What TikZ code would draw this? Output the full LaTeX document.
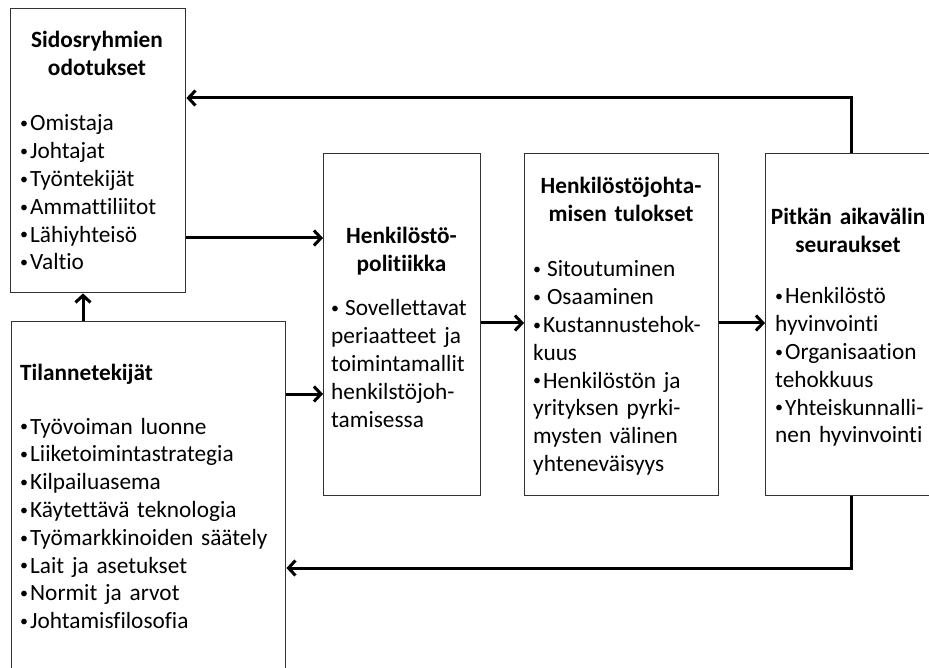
\documentclass[tikz,border=0pt]{standalone}
\usepackage{fontspec}
\setmainfont{Carlito}[Ligatures=NoCommon, WordSpace=0.75]
\usetikzlibrary{arrows.meta}
\newcommand{\fsz}{\fontsize{23.3}{27.8}\selectfont}
\newcommand{\bul}{{\fontsize{16}{16}\selectfont\raisebox{2.2pt}{•}}\hspace{2pt}}
\tikzset{
  box/.style={draw=black!80, line width=1.4pt, anchor=north west, inner sep=0pt},
  arr/.style={line width=3pt, -{Straight Barb[length=7pt,width=15pt]}},
  txt/.style={inner sep=0pt, font=\fsz, align=left, anchor=base west, text width=#1},
  txt/.default=170pt,
  head/.style={inner sep=0pt, font=\fsz\bfseries, align=center, anchor=base, text width=#1},
  head/.default=170pt,
}
\begin{document}
\begin{tikzpicture}[x=1pt,y=-1pt]
\useasboundingbox (0,0) rectangle (929,668);
\clip (0,0) rectangle (929,668);
\fill[white] (0,0) rectangle (929,668);
% boxes
\node[box, minimum width=175pt, minimum height=284pt] (b1) at (10,8) {};
\node[box, minimum width=274pt, minimum height=370pt] (b2) at (11,321) {};
\node[box, minimum width=157pt, minimum height=342pt] (b3) at (323,153) {};
\node[box, minimum width=194pt, minimum height=342pt] (b4) at (524,153) {};
\node[box, minimum width=172pt, minimum height=342pt] (b5) at (765,153) {};
% texts
\node[head] (h1) at (97,48) {Sidosryhmien\\odotukset};
\node[txt] (l1) at (20,131) {\bul Omistaja\\\bul Johtajat\\\bul Työntekijät\\\bul Ammattiliitot\\\bul Lähiyhteisö\\\bul Valtio};
\node[txt=260pt, font=\fsz\bfseries] (h2) at (20,380) {Tilannetekijät};
\node[txt=260pt] (l2) at (20,434) {\bul Työvoiman luonne\\\bul Liiketoimintastrategia\\\bul Kilpailuasema\\\bul Käytettävä teknologia\\\bul Työmarkkinoiden säätely\\\bul Lait ja asetukset\\\bul Normit ja arvot\\\bul Johtamisfilosofia};
\node[head=150pt] (h3) at (401.5,244) {Henkilöstö-\\politiikka};
\node[txt=150pt] (l3) at (331,316) {\bul\,Sovellettavat\\periaatteet ja\\toimintamallit\\henkilstöjoh-\\tamisessa};
\node[head=190pt] (h4) at (621,194) {Henkilöstöjohta-\\misen tulokset};
\node[txt=190pt] (l4) at (533,277) {\bul\,Sitoutuminen\\\bul\,Osaaminen\\\bul Kustannustehok-\\kuus\\\bul Henkilöstön ja\\yrityksen pyrki-\\mysten välinen\\yhteneväisyys};
\node[head=160pt] (h5) at (848,225) {Pitkän aikavälin\\seuraukset};
\node[txt=160pt] (l5) at (775,304) {\bul Henkilöstö\\hyvinvointi\\\bul Organisaation\\tehokkuus\\\bul Yhteiskunnalli-\\nen hyvinvointi};
% helper coordinates
\coordinate (ytop) at (0,98);
\coordinate (ybot) at (0,568);
\coordinate (ya) at (0,238);
\coordinate (yb) at (0,394);
\coordinate (yc) at (0,323);
\coordinate (xa) at (83,0);
% connectors
\draw[arr] (b2.north -| xa) -- (b1.south -| xa);
\draw[arr] (b1.east |- ya) -- (b3.west |- ya);
\draw[arr] (b2.east |- yb) -- (b3.west |- yb);
\draw[arr] (b3.east |- yc) -- (b4.west |- yc);
\draw[arr] (b4.east |- yc) -- (b5.west |- yc);
\draw[arr] (b5.north) |- (b1.east |- ytop);
\draw[arr] (b5.south) |- (b2.east |- ybot);
\end{tikzpicture}
\end{document}
